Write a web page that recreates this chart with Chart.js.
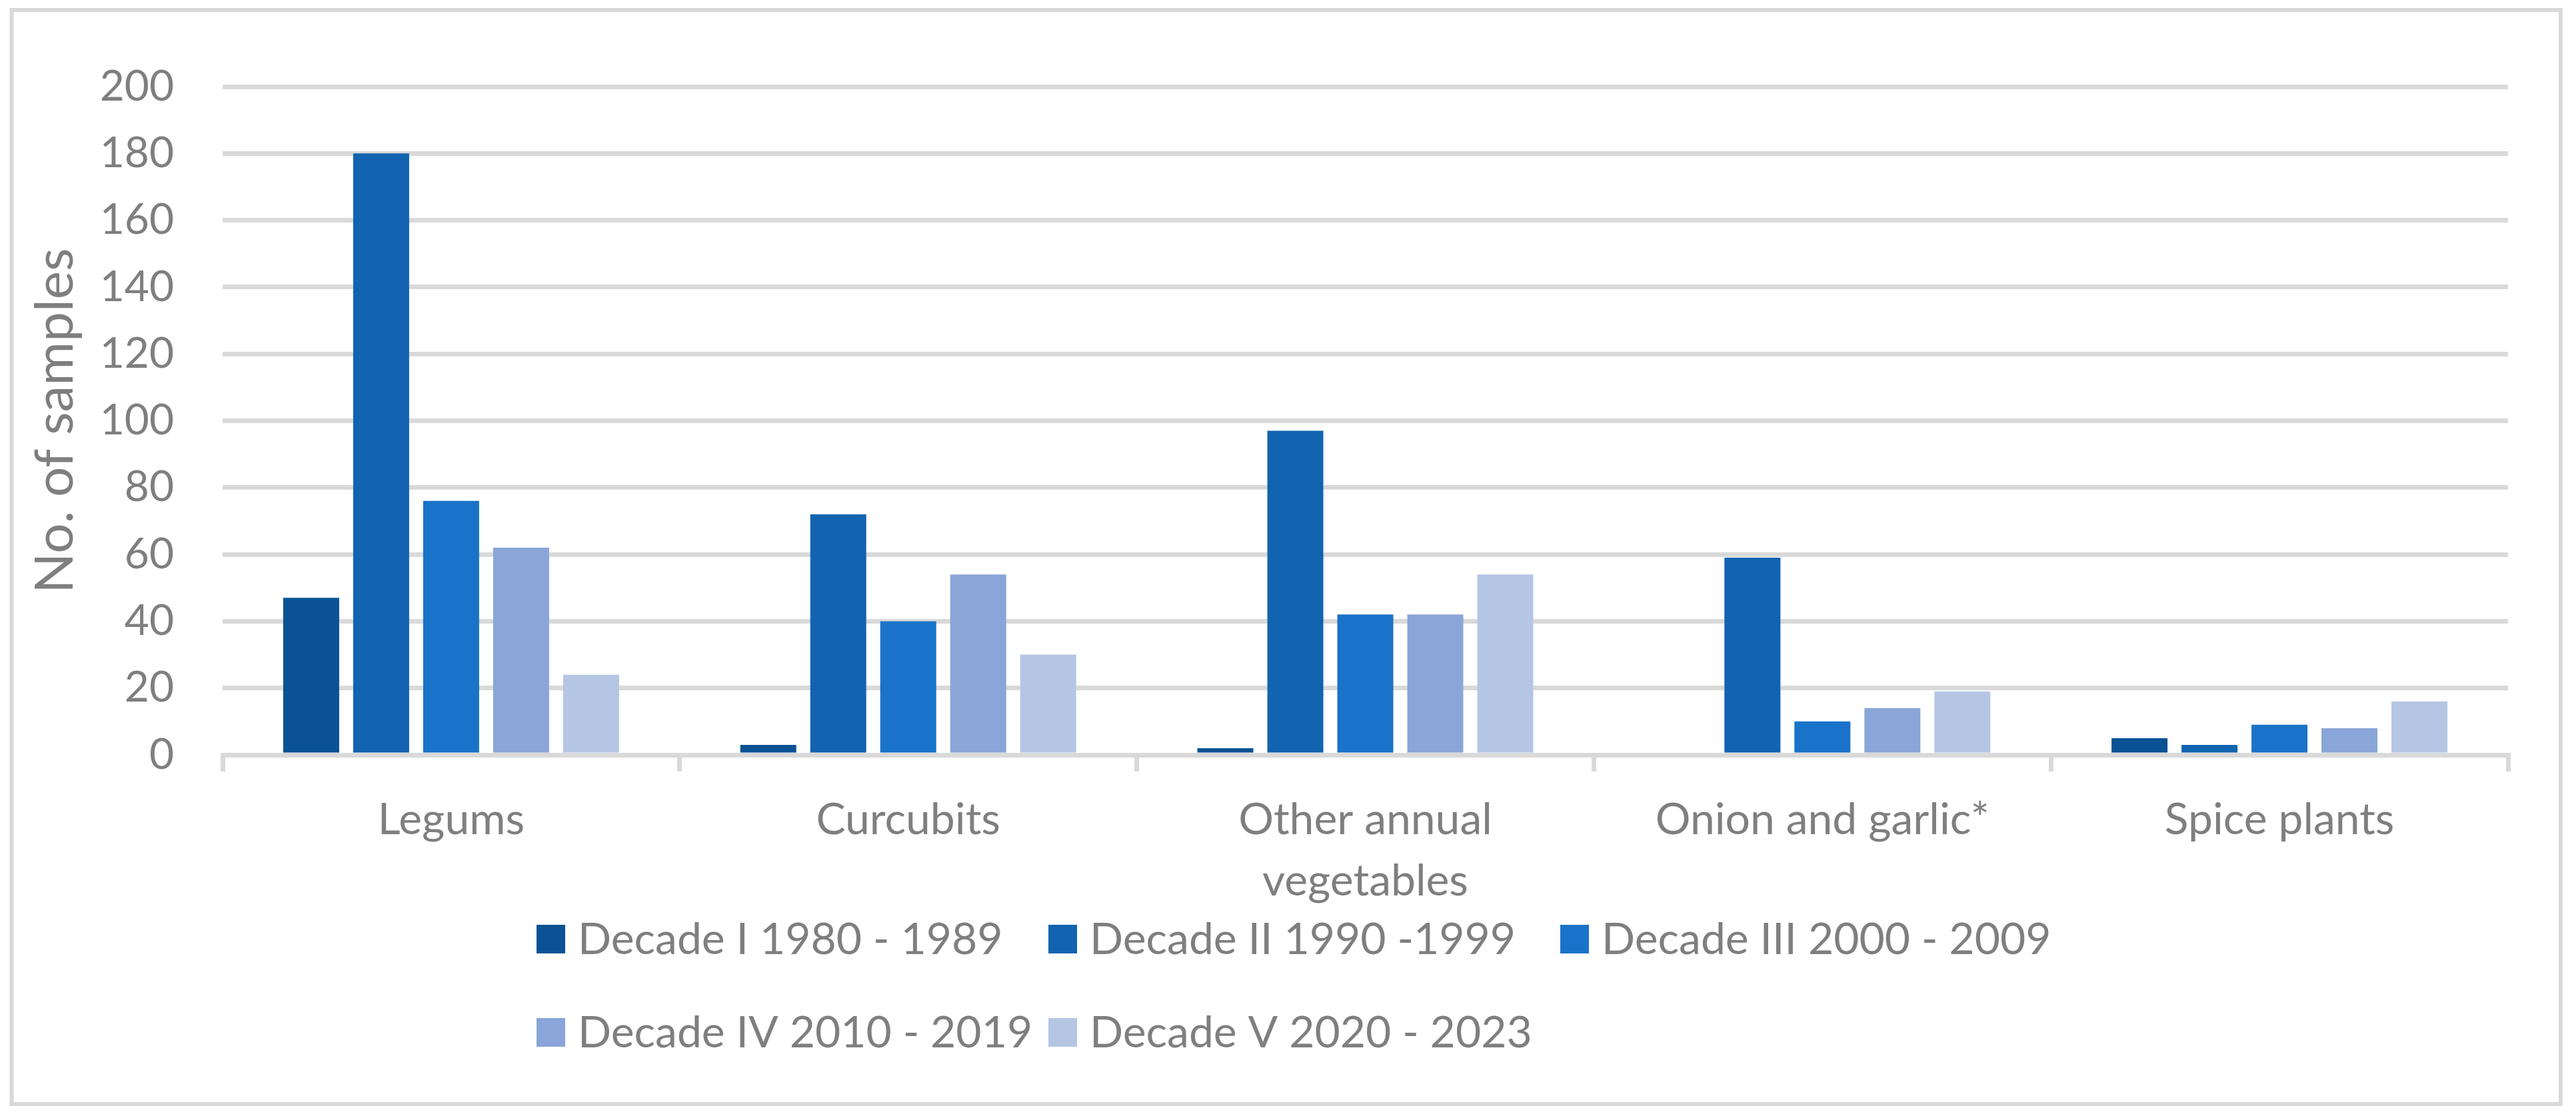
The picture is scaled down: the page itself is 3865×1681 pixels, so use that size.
<!DOCTYPE html>
<html>
<head>
<meta charset="utf-8">
<script src="https://cdn.jsdelivr.net/npm/chart.js@4.4.1/dist/chart.umd.min.js"></script>
<style>
  html, body { margin: 0; padding: 0; background: #ffffff; }
  canvas { display: block; }
</style>
</head>
<body>
<canvas id="c" width="3865" height="1681"></canvas>
<script>
// ---- Data ----
const categories = ['Legums', 'Curcubits', ['Other annual', 'vegetables'], 'Onion and garlic*', 'Spice plants'];
const seriesNames = ['Decade I 1980 - 1989', 'Decade II 1990 -1999', 'Decade III 2000 - 2009', 'Decade IV 2010 - 2019', 'Decade V 2020 - 2023'];
const decadeI   = [47, 3, 2, 0, 5];
const decadeII  = [180, 72, 97, 59, 3];
const decadeIII = [76, 40, 42, 10, 9];
const decadeIV  = [62, 54, 42, 14, 8];
const decadeV   = [24, 30, 54, 19, 16];
const yAxisTitle = 'No. of samples';
const yMin = 0, yMax = 200, yStep = 20;

// ---- Styles ----
const seriesValues = [decadeI, decadeII, decadeIII, decadeIV, decadeV];
const seriesColors = ['#0A5294', '#1264B0', '#1973C8', '#8AA5D8', '#B5C6E4'];
const FONT = 'Lato';
const TEXT = '#7f7f7f';
const GRID = '#d9d9d9';

const frameAndLegend = {
  id: 'frameAndLegend',
  beforeDraw(chart) {
    const ctx = chart.ctx;
    ctx.save();
    ctx.fillStyle = '#ffffff';
    ctx.fillRect(0, 0, chart.width, chart.height);
    ctx.strokeStyle = GRID;
    ctx.lineWidth = 6;
    ctx.strokeRect(17.5, 15, 3824.5, 1642);
    ctx.restore();
  },
  afterDraw(chart) {
    const ctx = chart.ctx;
    ctx.save();
    ctx.font = '66px ' + FONT;
    ctx.textBaseline = 'middle';
    ctx.textAlign = 'left';
    chart.data.datasets.forEach((ds, i) => {
      const col = i % 3, row = Math.floor(i / 3);
      const x0 = 805 + col * 768;
      const yc = 1409 + row * 140;
      ctx.fillStyle = ds.backgroundColor;
      ctx.fillRect(x0, yc - 21, 43, 43);
      ctx.fillStyle = TEXT;
      ctx.fillText(ds.label, x0 + 62, yc + 2);
    });
    ctx.restore();
  }
};

const chart = new Chart(document.getElementById('c'), {
  type: 'bar',
  data: {
    labels: categories,
    datasets: seriesNames.map((name, i) => ({
      label: name,
      data: seriesValues[i],
      backgroundColor: seriesColors[i],
      borderWidth: 0,
      categoryPercentage: 0.7655,
      barPercentage: 0.8
    }))
  },
  options: {
    responsive: false,
    devicePixelRatio: 1,
    animation: false,
    layout: { padding: { left: 20, right: 102, top: 130, bottom: 48 } },
    plugins: {
      legend: { display: false },
      tooltip: { enabled: false },
      title: { display: false }
    },
    scales: {
      x: {
        grid: {
          display: true,
          offset: true,
          drawOnChartArea: false,
          drawTicks: true,
          tickLength: 25,
          color: GRID,
          lineWidth: 7
        },
        border: { display: true, color: GRID, width: 7 },
        ticks: {
          color: TEXT,
          padding: 27,
          maxRotation: 0,
          autoSkip: false,
          font: { family: FONT, size: 66, lineHeight: 1.39 }
        },
        afterFit: (s) => { s.height = 500; }
      },
      y: {
        min: yMin,
        max: yMax,
        grid: { color: GRID, lineWidth: 7, drawTicks: false },
        border: { display: false },
        ticks: {
          stepSize: yStep,
          color: TEXT,
          padding: 73,
          font: { family: FONT, size: 64 }
        },
        title: {
          display: true,
          text: yAxisTitle,
          color: TEXT,
          padding: { top: 15, bottom: 0 },
          font: { family: FONT, size: 80, lineHeight: 1.2 }
        },
        afterFit: (s) => { s.width = 314; }
      }
    }
  },
  plugins: [frameAndLegend]
});
</script>
</body>
</html>
